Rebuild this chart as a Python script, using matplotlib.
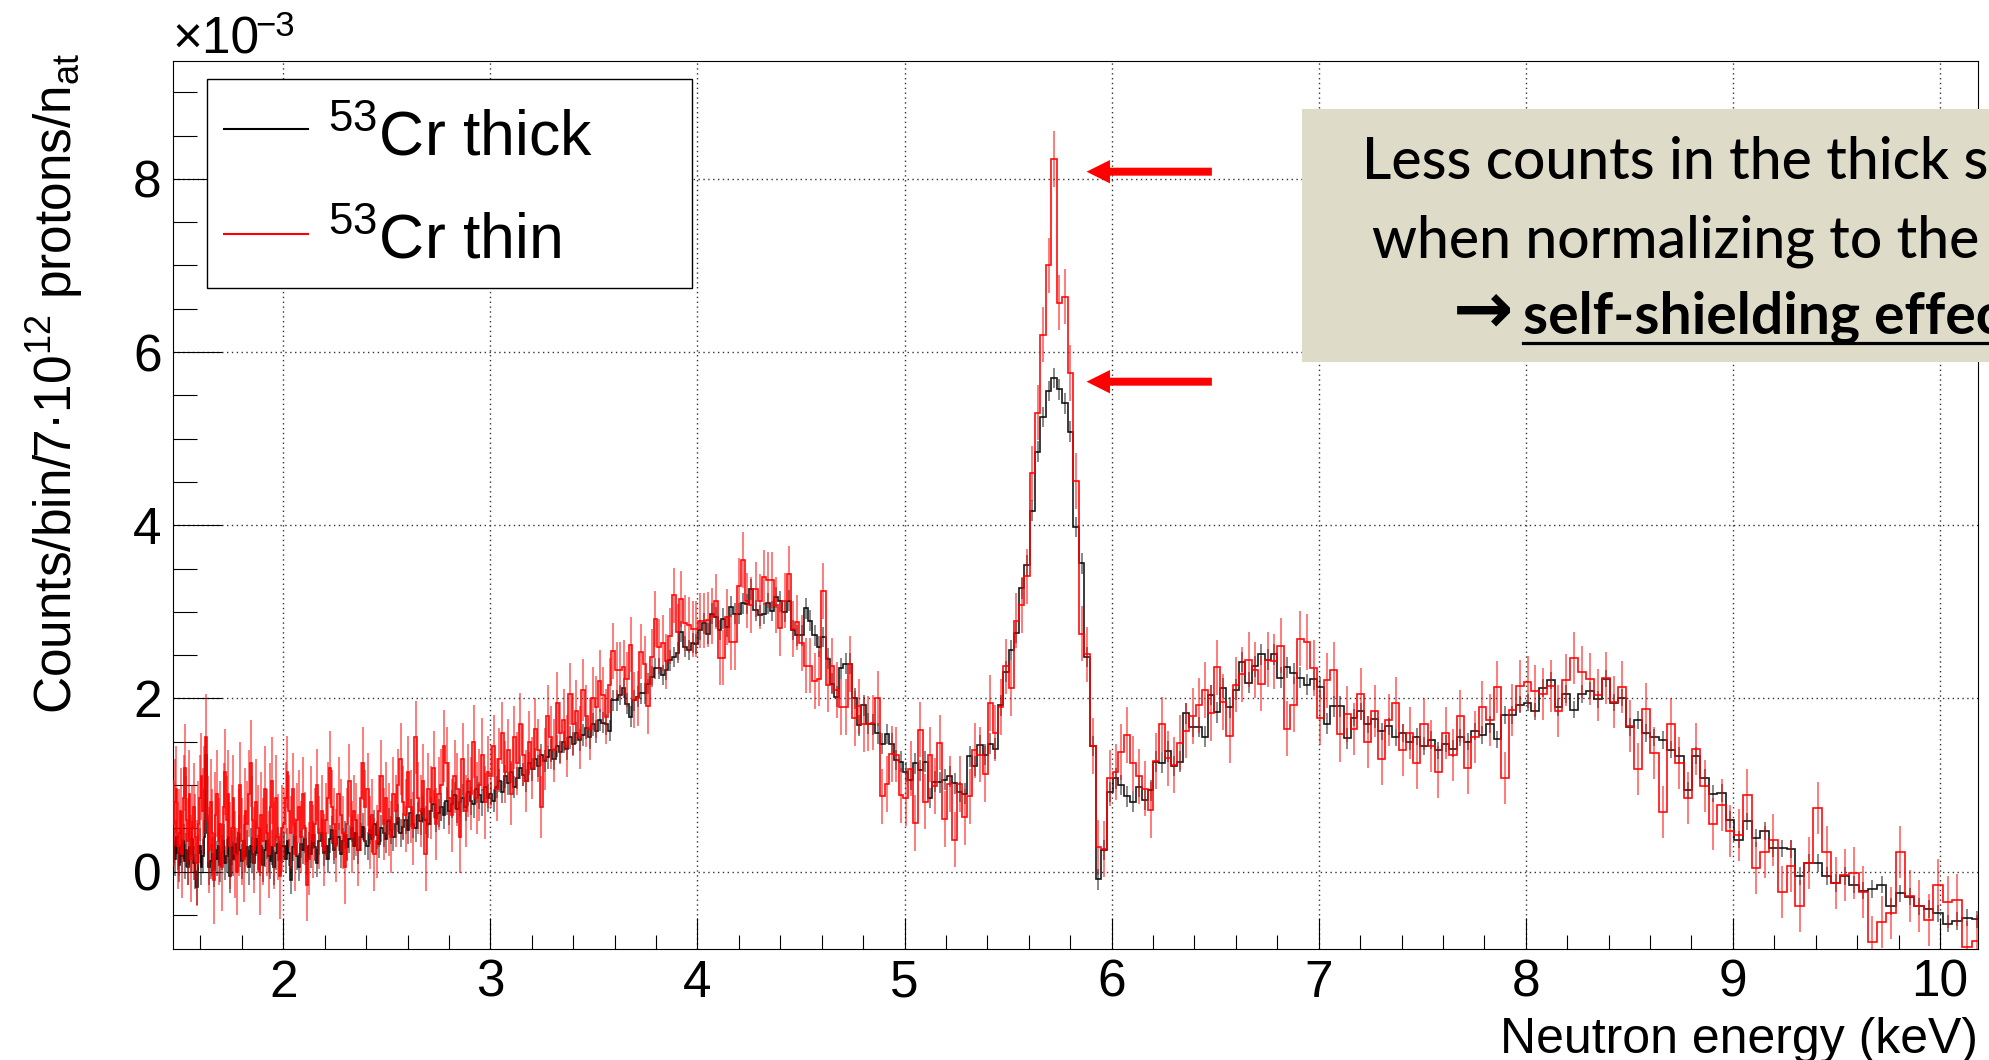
import numpy as np
import matplotlib
matplotlib.use('Agg')
import matplotlib.pyplot as plt
import matplotlib.patches as mpatches
from matplotlib.lines import Line2D
from matplotlib.ticker import MultipleLocator

plt.rcParams['font.family'] = ['Liberation Sans', 'DejaVu Sans']
plt.rcParams['mathtext.fontset'] = 'custom'
plt.rcParams['mathtext.rm'] = 'Liberation Sans'
plt.rcParams['mathtext.it'] = 'Liberation Sans:italic'
plt.rcParams['mathtext.bf'] = 'Liberation Sans:bold'

W, H = 1990, 1060

# histogram range in keV, log binning; counts in units of 1e-3
e_lo, e_hi = 1.46, 10.2

# --- 53Cr thick (black), by energy region ---
thick_a = [0.55, 0.30, 0.15, 0.40, 0.22, 0.08, 0.30, 0.18, 0.35, 0.12,
           0.25, 0.05, 0.28, 0.20, 0.38, 0.10, 0.00, -0.18, 0.22, 0.30,
           0.05, 0.18, 0.40, 1.35, 0.45, 0.05, 0.12, 0.20, 0.02, 0.25,
           0.15, 0.30, 0.08, 0.22, 0.35, 0.10, 0.18, 0.40, -0.05, 0.28,
           0.15, 0.32, 0.20, 0.45, 0.25, 0.12, 0.35, 0.18, 0.28, 0.05,
           0.30, 0.20, 0.10, 0.38, 0.22, 0.15, 0.30, 0.08, 0.25, 0.35,
           0.18, 0.12, 0.28, 0.05, 0.22, 0.32, 0.15, 0.30]
thick_b = [0.30, 0.15, 0.35, 0.22, -0.10, 0.28, 0.40, 0.18, 0.05, 0.32,
           0.25, 0.38, 0.12, 0.30, 0.20, 0.42, 0.28, 0.10, 0.35, 0.45,
           0.22, 0.30, 0.15, 0.38, 0.48, 0.25, 0.32, 0.40, 0.20, 0.35,
           0.42, 0.28, 0.38, 0.50, 0.30, 0.45, 0.25, 0.40, 0.52, 0.35,
           0.30, 0.48, 0.38, 0.55, 0.42, 0.32, 0.50, 0.45, 0.38, 0.58,
           0.48, 0.40, 0.55, 0.62, 0.45, 0.52, 0.60, 0.48, 0.68, 0.55,
           0.50, 0.65, 0.58, 0.72, 0.60, 0.55, 0.70, 0.78, 0.62, 0.68,
           0.75, 0.65, 0.82, 0.70, 0.78, 0.88, 0.72, 0.80, 0.85, 0.75,
           0.92, 0.82, 0.78, 0.95, 0.88, 0.80, 0.98, 0.85]
thick_c = [0.90, 0.82, 0.98, 1.05, 0.92, 1.10, 1.02, 1.15, 0.98, 1.08,
           1.20, 1.12, 1.05, 1.25, 1.18, 1.30, 1.22, 1.35, 1.28, 1.32,
           1.40, 1.30, 1.45, 1.38, 1.50, 1.42, 1.55, 1.48, 1.60, 1.52,
           1.58, 1.66, 1.55, 1.70, 1.62, 1.75]
thick_d = [1.72, 1.70, 1.63, 1.98, 1.98, 2.04, 2.12, 1.94,
           1.79, 1.98, 2.02, 2.06, 2.06, 2.17, 2.25, 2.35, 2.35, 2.27,
           2.33, 2.44, 2.48, 2.53, 2.77, 2.60, 2.56, 2.64, 2.63, 2.79,
           2.87, 2.75, 2.98, 2.94, 2.79, 2.92, 2.83, 3.06, 2.98, 2.98,
           3.10, 3.09, 3.26, 3.02, 2.96, 2.98, 3.10, 3.01, 3.17, 3.12,
           3.00, 3.13, 2.79, 2.73, 2.73, 3.04, 2.90, 2.73, 2.60, 2.71,
           2.46, 2.17, 2.02, 2.35, 2.40, 2.40, 2.00, 1.69, 1.92, 1.71,
           1.70, 1.60, 1.48, 1.59, 1.48, 1.29, 1.27, 1.15, 1.06, 1.25,
           1.17, 1.27, 0.85, 1.04, 1.03, 1.06, 1.10, 1.02, 0.92, 0.90,
           1.33, 1.22, 1.46, 1.35, 1.48, 1.42, 1.92, 2.31, 2.56, 2.76,
           3.27, 3.54, 4.17, 4.85, 5.25, 5.55]
thick_e = [5.70, 5.57, 5.41, 5.08, 3.98, 3.56, 2.48, 1.45, -0.09, 0.25,
           0.92, 1.08, 1.00, 0.87, 0.81, 0.98, 0.83, 0.94, 1.27, 1.26,
           1.39, 1.22, 1.27, 1.83, 1.67, 1.67, 1.56, 2.04, 1.84, 2.12,
           1.90, 2.10, 2.42, 2.18, 2.37, 2.51, 2.45, 2.51, 2.24, 2.36,
           2.29, 2.24, 2.16, 2.22, 2.13, 1.71, 1.91, 1.91, 1.54]
thick_f = [1.78, 1.85, 1.70, 1.76, 1.62, 1.68, 1.55, 1.60, 1.50, 1.56,
           1.45, 1.52, 1.40, 1.48, 1.42, 1.55, 1.50, 1.62, 1.58, 1.70, 1.53]
thick_g = [1.81, 1.81, 1.93, 1.95, 1.85, 2.12, 2.21, 1.90, 2.05, 1.87,
           2.05, 2.09, 1.99, 2.23, 1.95, 2.01, 1.67, 1.75, 1.60, 1.55,
           1.52, 1.41, 1.34, 0.94, 1.34, 1.08, 0.90, 0.91, 0.60, 0.37,
           0.58, 0.39, 0.47, 0.27, 0.27, 0.26, -0.05, 0.10, 0.10, -0.05,
           -0.13, -0.05, -0.15, -0.22, -0.20, -0.15, -0.40, -0.25, -0.29, -0.40,
           -0.43, -0.48, -0.60, -0.57, -0.53, -0.55]

# --- 53Cr thin (red), same regions ---
thin_a = [1.05, 0.55, 0.80, 0.95, 0.30, 0.45, 0.70, 0.20, 0.85, 1.20,
          0.60, 0.35, 0.90, 0.15, 0.50, 0.75, 0.40, 0.10, 0.55, 0.85,
          1.10, 0.70, 0.95, 1.55, 0.60, 0.25, 0.80, 0.45, -0.10, 0.65,
          0.90, 0.35, 0.55, 0.05, 0.75, 1.15, 0.60, 0.90, 0.30, 0.50,
          0.85, 0.20, 0.00, 0.45, 1.00, 0.35, 0.15, 0.70, 0.55, 0.90,
          1.25, 0.60, 0.25, 0.80, 0.50, 0.00, 0.65, 0.35, 0.95, 0.45,
          0.20, 0.75, 1.05, 0.30, 0.85, 0.40, -0.05, 0.50]
thin_b = [0.55, 0.85, 1.15, 0.70, 0.45, 0.95, 0.20, 0.60, 0.75, 0.40,
          0.90, 0.50, -0.15, 0.15, 0.80, 0.35, 0.55, 1.00, 0.45, 0.70,
          0.25, 0.60, 0.85, 1.20, 0.75, 0.55, 0.30, 0.90, 0.65, 0.45,
          0.05, 0.55, 1.05, 0.40, 0.70, 0.60, 0.25, 0.85, 1.25, 0.75,
          0.95, 0.45, 0.65, 0.20, 0.35, 0.70, 1.10, 0.55, 0.85, 0.60,
          0.40, 0.90, 0.70, 1.00, 1.30, 0.80, 0.65, 1.15, 0.75, 0.50,
          1.55, 0.85, 0.70, 1.05, 0.20, 0.95, 0.80, 1.20, 0.55, 0.90,
          1.00, 1.45, 1.25, 0.85, 0.65, 1.10, 0.95, 0.40, 1.30, 0.70,
          1.05, 0.90, 1.50, 0.85, 1.00, 1.35, 0.80, 1.15]
thin_c = [1.10, 1.45, 0.95, 1.30, 1.60, 1.15, 1.40, 0.90, 1.55, 1.25,
          1.70, 1.35, 1.05, 1.50, 1.20, 1.65, 1.40, 0.75, 1.30, 1.80,
          1.55, 1.40, 1.95, 1.60, 1.75, 1.45, 2.05, 1.70, 1.85, 1.55,
          2.10, 1.80, 1.65, 2.00, 1.90, 2.20]
thin_d = [2.04, 1.79, 2.15, 2.55, 2.33, 2.33, 2.36, 2.22,
          2.62, 1.98, 2.00, 2.54, 2.40, 1.91, 2.48, 2.92, 2.60, 2.64,
          2.43, 2.72, 3.19, 2.77, 3.15, 2.87, 2.85, 2.80, 2.80, 2.90,
          2.90, 2.91, 2.95, 3.12, 2.47, 2.47, 2.94, 2.65, 2.65, 3.30,
          3.60, 3.13, 3.08, 3.26, 3.12, 3.40, 3.37, 3.37, 3.08, 2.81,
          3.13, 3.44, 2.80, 2.88, 2.64, 2.38, 2.38, 2.20, 2.23, 3.24,
          2.16, 2.38, 2.10, 1.90, 1.90, 2.40, 1.77, 1.91, 1.70, 1.71,
          1.72, 2.00, 0.87, 1.01, 1.36, 1.35, 0.88, 0.85, 1.19, 0.56,
          1.64, 0.81, 1.35, 0.99, 1.49, 0.61, 1.01, 0.37, 1.01, 0.63,
          0.87, 1.40, 1.35, 1.13, 1.95, 1.60, 1.90, 2.37, 2.12, 2.90,
          3.08, 3.41, 4.60, 5.30, 6.20, 7.00]
thin_e = [8.23, 6.57, 6.64, 5.76, 4.51, 2.75, 2.51, 1.45, 0.28, 0.26,
          1.08, 1.15, 1.38, 1.58, 1.25, 1.10, 0.96, 0.71, 1.28, 1.70,
          1.31, 1.23, 1.49, 1.63, 1.80, 1.92, 2.10, 1.83, 2.36, 1.96,
          1.57, 2.16, 2.28, 2.45, 2.33, 2.17, 2.45, 2.43, 2.61, 1.65,
          1.93, 2.69, 2.65, 2.35, 1.78, 2.21, 2.33, 1.59, 1.82]
thin_f = [1.65, 2.05, 1.50, 1.85, 1.30, 1.75, 1.95, 1.40, 1.60, 1.25,
          1.70, 1.45, 1.15, 1.60, 1.35, 1.80, 1.20, 1.55, 1.90, 1.75, 2.13]
thin_g = [1.08, 1.87, 2.14, 2.19, 2.09, 2.05, 2.14, 1.85, 2.21, 2.47,
          2.31, 2.22, 2.04, 2.24, 1.96, 2.13, 1.68, 1.19, 1.88, 1.37,
          0.69, 1.70, 1.26, 0.85, 1.42, 0.99, 0.55, 0.77, 0.47, 0.42,
          0.89, 0.04, 0.23, 0.37, -0.23, 0.06, -0.40, 0.10, 0.73, 0.23,
          -0.13, -0.04, -0.01, -0.23, -0.81, -0.58, -0.48, 0.23, -0.28, -0.40,
          -0.56, -0.15, -0.35, -0.33, -0.87, -0.80]

# error bar half-lengths per region (1e-3)
thick_err_region = [0.20, 0.16, 0.13, 0.12, 0.12, 0.10, 0.10]
thin_err_region = [0.50, 0.42, 0.36, 0.32, 0.32, 0.30, 0.30]

thick_parts = [thick_a, thick_b, thick_c, thick_d, thick_e, thick_f, thick_g]
thin_parts = [thin_a, thin_b, thin_c, thin_d, thin_e, thin_f, thin_g]
sizes = [len(p) for p in thick_parts]

thick = np.concatenate(thick_parts)
thin = np.concatenate(thin_parts)
thick_err = np.repeat(thick_err_region, sizes)
thin_err = np.repeat(thin_err_region, sizes)

edges = np.geomspace(e_lo, e_hi, len(thick) + 1)
centers = np.sqrt(edges[:-1] * edges[1:])


def fx(px):
    return px / W


def fy(py):
    return 1 - py / H


fig = plt.figure(figsize=(W / 100, H / 100), dpi=100)
ax = fig.add_axes([fx(172.7), fy(949), (1978.5 - 172.7) / W, (949 - 60.5) / H])

ax.stairs(thick, edges, baseline=None, color='black', lw=1.2, alpha=0.9, zorder=3)
ax.errorbar(centers, thick, yerr=thick_err, fmt='none', ecolor='black',
            elinewidth=1.2, alpha=0.55, zorder=3)
ax.stairs(thin, edges, baseline=None, color='red', lw=1.2, alpha=0.95, zorder=4)
ax.errorbar(centers, thin, yerr=thin_err, fmt='none', ecolor='red',
            elinewidth=1.2, alpha=0.6, zorder=4)

ax.set_xlim(1.466, 10.186)
ax.set_ylim(-0.893, 9.367)

ax.xaxis.set_major_locator(MultipleLocator(1))
ax.xaxis.set_minor_locator(MultipleLocator(0.2))
ax.yaxis.set_major_locator(MultipleLocator(2))
ax.yaxis.set_minor_locator(MultipleLocator(0.5))
ax.tick_params(which='both', direction='in', top=False, right=False,
               width=0.8, labelsize=37)
ax.tick_params(axis='x', which='major', length=22, pad=7)
ax.tick_params(axis='x', which='minor', length=10)
ax.tick_params(axis='y', which='major', length=35, pad=8)
ax.tick_params(axis='y', which='minor', length=17)
for s in ax.spines.values():
    s.set_linewidth(0.8)

ax.grid(True, which='major', linestyle=(0, (1, 2.5)), color='#333333', lw=1.0)
ax.set_axisbelow(True)

# self-shielding arrows
for y_tip in [8.083, 5.658]:
    ax.add_patch(mpatches.FancyArrow(6.484, y_tip, -(6.484 - 5.879), 0,
                                      width=0.092, head_width=0.27,
                                      head_length=0.113,
                                      length_includes_head=True,
                                      color='red', lw=0, zorder=6))

# axis titles
fig.text(fx(172), fy(54), '×10', fontsize=37, va='baseline', ha='left')
fig.text(fx(255), fy(36), '−3', fontsize=25, va='baseline', ha='left')
fig.text(fx(55), fy(52), r'Counts/bin/7·10$^{12}$ protons/n$_{\mathrm{at}}$',
         fontsize=37, rotation=90, ha='center', va='top')
fig.text(fx(1978), fy(1053), 'Neutron energy (keV)', fontsize=36,
         ha='right', va='baseline')

# legend box
fig.add_artist(mpatches.Rectangle((fx(207), fy(288)), (692 - 207) / W, (288 - 79) / H,
                                  transform=fig.transFigure, facecolor='white',
                                  edgecolor='black', lw=1.0, zorder=5))
fig.add_artist(Line2D([fx(224), fx(308)], [fy(129), fy(129)],
                      transform=fig.transFigure, color='black', lw=1.5, zorder=6))
fig.add_artist(Line2D([fx(224), fx(308)], [fy(234), fy(234)],
                      transform=fig.transFigure, color='red', lw=1.5, zorder=6))
fig.text(fx(328), fy(155), r'${}^{53}$Cr thick', fontsize=45, va='baseline', zorder=7)
fig.text(fx(328), fy(258), r'${}^{53}$Cr thin', fontsize=45, va='baseline', zorder=7)

# comment box (runs past the right edge, as on the slide)
box_font = ['Lato', 'DejaVu Sans']
fig.add_artist(mpatches.Rectangle((fx(1302), fy(362)), (2300 - 1302) / W, (362 - 109) / H,
                                  transform=fig.transFigure, facecolor='#DEDBC8',
                                  edgecolor='none', zorder=5))
fig.text(fx(1362), fy(179), 'Less counts in the thick sample', fontsize=41,
         family=box_font, fontweight='medium', va='baseline', ha='left', zorder=7)
fig.text(fx(1372), fy(257), 'when normalizing to the mass', fontsize=41,
         family=box_font, fontweight='medium', va='baseline', ha='left', zorder=7)
fig.text(fx(1453), fy(333), '→', fontsize=52, fontweight='bold',
         family=['DejaVu Sans'], va='baseline', ha='left', zorder=7)
fig.text(fx(1523), fy(333), 'self-shielding effect', fontsize=41, fontweight='bold',
         family=box_font, va='baseline', ha='left', zorder=7)
fig.add_artist(Line2D([fx(1523), fx(2300)], [fy(343), fy(343)],
                      transform=fig.transFigure, color='black', lw=2.3, zorder=7))

fig.savefig('out.png', dpi=100)
